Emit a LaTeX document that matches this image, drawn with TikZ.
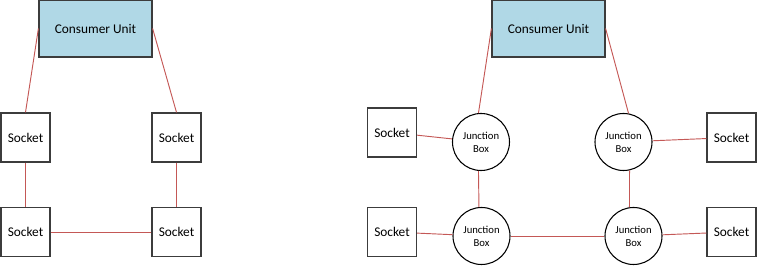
\documentclass[tikz,border=0pt]{standalone}
\usepackage{fontspec}
\setmainfont{Carlito}
\usepackage{tikz}

\definecolor{cublue}{RGB}{176,216,230}
\definecolor{wirered}{RGB}{196,88,86}
\definecolor{edgegrey}{RGB}{60,60,60}

\tikzset{
  unitbox/.style={draw=edgegrey,fill=cublue,line width=0.9pt,minimum width=84.75pt,minimum height=42.75pt,inner sep=0pt,font=\fontsize{10}{12}\selectfont},
  socketbox/.style={draw=edgegrey,fill=white,line width=0.9pt,minimum width=36.75pt,minimum height=36.75pt,inner sep=0pt,font=\fontsize{10}{12}\selectfont},
  junction/.style={circle,draw=black,fill=white,line width=0.8pt,minimum size=42.75pt,inner sep=0pt,align=center,font=\fontsize{8}{9.75}\selectfont},
  wire/.style={draw=wirered,line width=0.7pt}
}

\begin{document}
\begin{tikzpicture}[x=0.75pt,y=-0.75pt]
  \useasboundingbox (0,0) rectangle (758,266);

  % radial circuit
  \node[unitbox] (cuL) at (95.5,28.5) {Consumer Unit};
  \node[socketbox] (sTL) at (25.5,137.5) {Socket};
  \node[socketbox] (sTR) at (176.5,137.5) {Socket};
  \node[socketbox] (sBL) at (25.5,232) {Socket};
  \node[socketbox] (sBR) at (176.5,232) {Socket};

  \draw[wire] (cuL.west) -- (sTL.north);
  \draw[wire] (cuL.east) -- (sTR.north);
  \draw[wire] (sTL) -- (sBL);
  \draw[wire] (sTR) -- (sBR);
  \draw[wire] (sBL) -- (sBR);

  % ring with junction boxes
  \node[unitbox] (cuR) at (548.5,28.5) {Consumer Unit};
  \node[junction] (jbTL) at (481,142) {Junction\\Box};
  \node[junction] (jbTR) at (623.5,142) {Junction\\Box};
  \node[junction] (jbBL) at (481.5,236) {Junction\\Box};
  \node[junction] (jbBR) at (633.5,236) {Junction\\Box};
  \node[socketbox] (jsTL) at (392,132.5) {Socket};
  \node[socketbox] (jsTR) at (731.5,137.5) {Socket};
  \node[socketbox] (jsBL) at (392,232) {Socket};
  \node[socketbox] (jsBR) at (731.5,232) {Socket};

  \draw[wire] (cuR.west) -- (jbTL.95);
  \draw[wire] (cuR.east) -- (jbTR.80);
  \draw[wire] (jbTL.-95) -- (jbBL.95);
  \draw[wire] (jbTR.-78) -- (jbBR.98);
  \draw[wire] (jbBL) -- (jbBR);
  \draw[wire] (jsTL) -- (jbTL);
  \draw[wire] (jbTR) -- (jsTR);
  \draw[wire] (jsBL) -- (jbBL);
  \draw[wire] (jbBR) -- (jsBR);
\end{tikzpicture}
\end{document}
